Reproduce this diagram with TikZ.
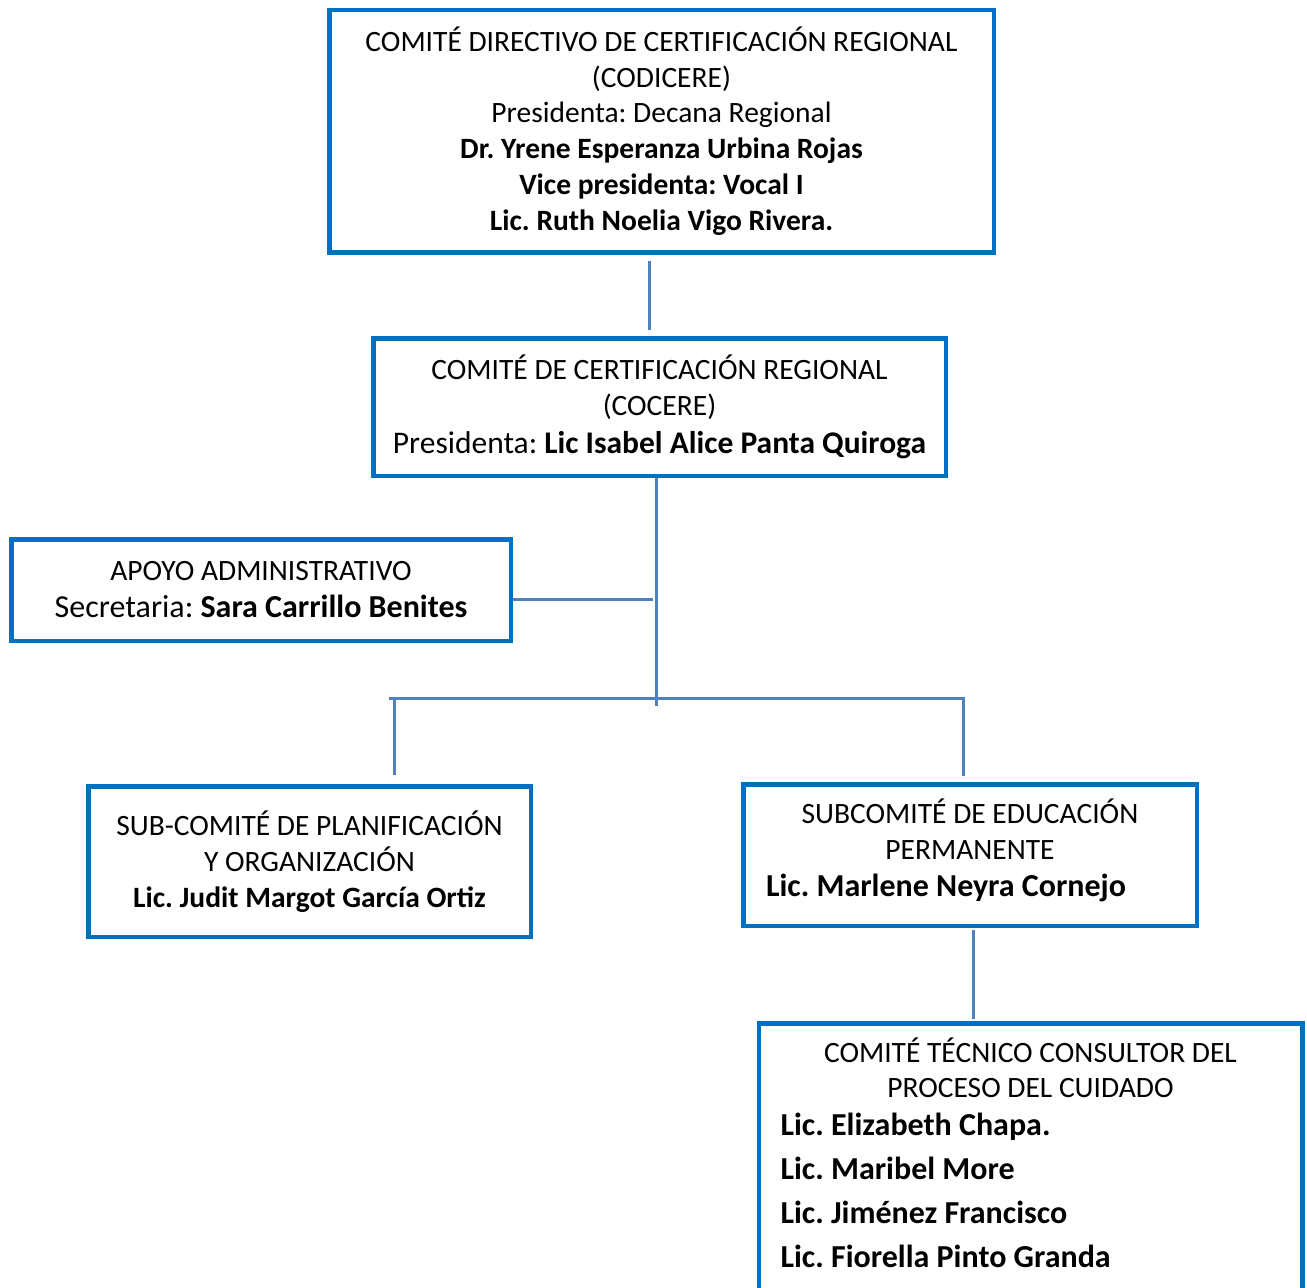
\documentclass[tikz,border=0pt]{standalone}
\usepackage{fontspec}
\setmainfont{Carlito}
\frenchspacing
\usetikzlibrary{positioning}
\usetikzlibrary{calc}

\definecolor{boxblue}{HTML}{0070C0}
\definecolor{linkblue}{HTML}{4F81BD}

\tikzset{
  orgbox/.style={draw=boxblue, line width=4.5pt, fill=white, align=center, inner sep=0pt},
  link/.style={draw=linkblue, line width=3pt},
}
\newcommand{\fsz}[2]{\fontsize{#1}{#2}\selectfont}

\begin{document}
\begin{tikzpicture}[x=1pt,y=-1pt]

  \useasboundingbox (0,0) rectangle (1307,1288);

  % Boxes of the chart
  \node[orgbox, minimum width=664.5pt, minimum height=242.5pt, font=\fsz{29.5}{35.8}] (codicere) at (661.5,131)
    {COMITÉ DIRECTIVO DE CERTIFICACIÓN REGIONAL\\ (CODICERE)\\ Presidenta: Decana Regional\\
     \textbf{Dr. Yrene Esperanza Urbina Rojas}\\ \textbf{Vice presidenta: Vocal I}\\ \textbf{Lic. Ruth Noelia Vigo Rivera.}};

  \node[orgbox, minimum width=572.5pt, minimum height=137.5pt, font=\fsz{29.5}{36}] (cocere) at (659.5,407)
    {COMITÉ DE CERTIFICACIÓN REGIONAL\\ (COCERE)\\[2pt]
     {\fsz{31.5}{36}Presidenta: \textbf{Lic Isabel Alice Panta Quiroga}}};

  \node[orgbox, minimum width=499.5pt, minimum height=101.5pt, font=\fsz{29.5}{37}] (apoyo) at (261,590)
    {APOYO ADMINISTRATIVO\\ {\fsz{32}{37}Secretaria: \textbf{Sara Carrillo Benites}}};

  \node[orgbox, minimum width=442.5pt, minimum height=150.5pt, font=\fsz{29.5}{36}] (planif) at (309.5,861.5)
    {SUB-COMITÉ DE PLANIFICACIÓN\\ Y ORGANIZACIÓN\\ \textbf{Lic. Judit Margot García Ortiz}};

  \node[orgbox, minimum width=453.5pt, minimum height=141.5pt, font=\fsz{29.5}{36}] (educ) at (970,855)
    {SUBCOMITÉ DE EDUCACIÓN\\ PERMANENTE\\[1pt]
     \makebox[408pt][l]{\fsz{32}{36}\bfseries Lic. Marlene Neyra Cornejo}\rule[-14pt]{0pt}{1pt}};

  \node[orgbox, anchor=north, minimum width=543.5pt, inner ysep=14pt, font=\fsz{29.5}{35}] (tecnico) at (1030.5,1021.25)
    {COMITÉ TÉCNICO CONSULTOR DEL\\ PROCESO DEL CUIDADO\\[3pt]
     \makebox[500pt][l]{\fsz{32}{45}\bfseries Lic. Elizabeth Chapa.}\\[9pt]
     \makebox[500pt][l]{\fsz{32}{45}\bfseries Lic. Maribel More}\\[9pt]
     \makebox[500pt][l]{\fsz{32}{45}\bfseries Lic. Jiménez Francisco}\\[9pt]
     \makebox[500pt][l]{\fsz{32}{45}\bfseries Lic. Fiorella Pinto Granda}\rule[-60pt]{0pt}{1pt}};

  % Points where the connectors meet
  \coordinate (hub) at (656,706);
  \coordinate (junction) at (653,599);
  \coordinate (barstart) at (389,698);
  \coordinate (legleft) at (394,698);
  \coordinate (legright) at (963,698);

  % Connectors
  \draw[link, shorten <=6pt, shorten >=6pt] ([xshift=-12.5pt]codicere.south) -- ([xshift=-10.5pt]cocere.north);
  \draw[link] (cocere.south -| hub) -- (hub);
  \draw[link] (apoyo.east |- junction) -- (junction);
  \draw[link, shorten >=6pt] (barstart) -- (legright) -- (legright |- educ.north);
  \draw[link, shorten >=9pt] (legleft) -- (legleft |- planif.north);
  \draw[link, shorten <=2pt, shorten >=2pt] ([xshift=3pt]educ.south) -- ([xshift=3pt]educ.south |- tecnico.north);

\end{tikzpicture}
\end{document}
